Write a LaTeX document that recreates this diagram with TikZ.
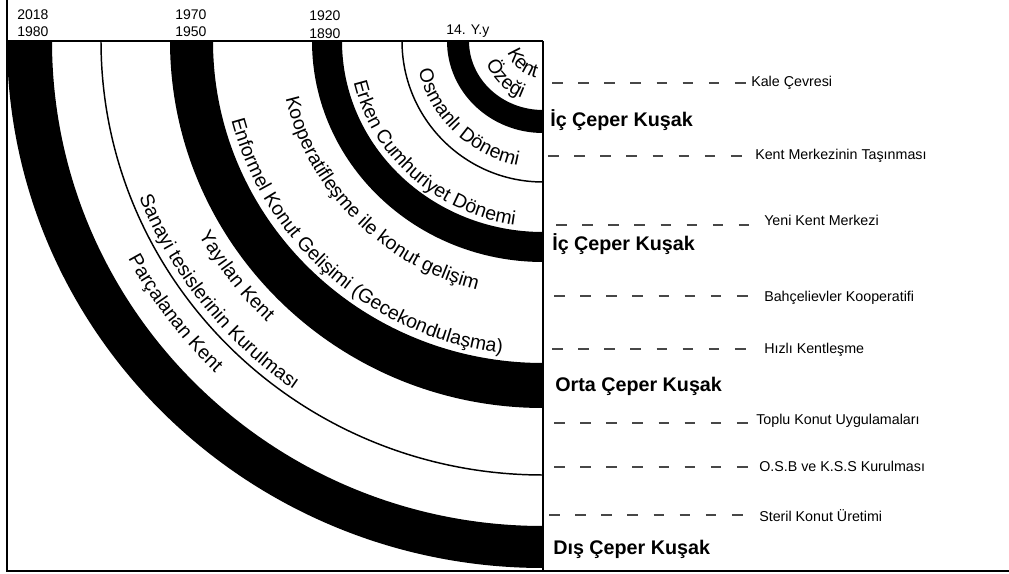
\documentclass[tikz,border=0pt]{standalone}
\usepackage{fontspec}
\setmainfont{Liberation Sans}
\usetikzlibrary{decorations.text}
\newcommand\arcfont{\fontsize{14.6}{16}\selectfont}
\tikzset{
  band/.style={fill=black, even odd rule},
  thinarc/.style={draw=black, line width=1.1pt},
  yearlbl/.style={font=\fontsize{10.5}{12}\selectfont, anchor=base west, inner sep=0pt},
  zonelbl/.style={font=\bfseries\fontsize{14.8}{17}\selectfont, anchor=base west, inner sep=0pt},
  eventlbl/.style={font=\fontsize{10.7}{12}\selectfont, anchor=base west, inner sep=0pt},
  dashline/.style={draw=black!72, line width=1.5pt, dash pattern=on 8pt off 11.6pt},
  frameline/.style={draw=black, line width=1pt},
  arctext/.style={decorate, decoration={text along path, text align=center, text color=black, text={|\arcfont|#1}}}
}
\begin{document}
\begin{tikzpicture}[x=0.75pt,y=0.75pt]
\useasboundingbox (0,0) rectangle (1009,574);
\fill[white] (0,0) rectangle (1009,574);
\coordinate (C) at (543,533);

% bands
\begin{scope}
  \clip (7,3) rectangle (543,533);
  \fill[band] (C) ellipse [x radius=536, y radius=527] (C) ellipse [x radius=491, y radius=485];
  \fill[band] (C) ellipse [x radius=373, y radius=367] (C) ellipse [x radius=330, y radius=322];
  \fill[band] (C) ellipse [x radius=231, y radius=221] (C) ellipse [x radius=201, y radius=191];
  \fill[band] (C) ellipse [x radius=96, y radius=92] (C) ellipse [x radius=74, y radius=69];
  \draw[thinarc] (C) ellipse [x radius=442, y radius=434];
  \draw[thinarc] (C) ellipse [x radius=141, y radius=141];
\end{scope}

% frame
\draw[frameline] (7,574) -- (7,3) -- (1009,3);
\draw[line width=1.6pt] (7,533) -- (543,533);
\draw[line width=1.3pt] (543,533) -- (543,3);

% arc texts
\path[arctext={Kent}] (C) ++(183:37 and 37) arc [start angle=183, end angle=273, x radius=37, y radius=37];
\path[arctext={Özeği}] (C) ++(180.5:61 and 61) arc [start angle=180.5, end angle=270.5, x radius=61, y radius=61];
\path[arctext={Osmanlı Dönemi}] (C) ++(181:128 and 127) arc [start angle=181, end angle=271, x radius=128, y radius=127];
\path[arctext={Erken Cumhuriyet Dönemi}] (C) ++(182:194 and 186) arc [start angle=182, end angle=272, x radius=194, y radius=186];
\path[arctext={Kooperatifleşme ile konut gelişim}] (C) ++(179:264 and 257) arc [start angle=179, end angle=269, x radius=264, y radius=257];
\path[arctext={Enformel Konut Gelişimi (Gecekondulaşma)}] (C) ++(183.5:322 and 315) arc [start angle=183.5, end angle=273.5, x radius=322, y radius=315];
\path[arctext={Yayılan Kent}] (C) ++(172.7:397 and 391) arc [start angle=172.7, end angle=262.7, x radius=397, y radius=391];
\path[arctext={Sanayi tesislerinin Kurulması}] (C) ++(173:434 and 426) arc [start angle=173, end angle=263, x radius=434, y radius=426];
\path[arctext={Parçalanan Kent}] (C) ++(171.7:470 and 463) arc [start angle=171.7, end angle=261.7, x radius=470, y radius=463];

% year labels
\node[yearlbl] (y1a) at (17,554.5) {2018};
\node[yearlbl] (y1b) at (17,537) {1980};
\node[yearlbl] (y2a) at (175,554.5) {1970};
\node[yearlbl] (y2b) at (175,537) {1950};
\node[yearlbl] (y3a) at (309,553) {1920};
\node[yearlbl] (y3b) at (309,535.5) {1890};
\node[yearlbl] (y4) at (446,539) {14. Y.y};

% zone labels
\node[zonelbl] (z1) at (550,447) {İç Çeper Kuşak};
\node[zonelbl] (z2) at (552,323) {İç Çeper Kuşak};
\node[zonelbl] (z3) at (555,182) {Orta Çeper Kuşak};
\node[zonelbl] (z4) at (553,19) {Dış Çeper Kuşak};

% event labels
\node[eventlbl] (e1) at (751,487) {Kale Çevresi};
\node[eventlbl] (e2) at (755,414) {Kent Merkezinin Taşınması};
\node[eventlbl] (e3) at (764,348) {Yeni Kent Merkezi};
\node[eventlbl] (e4) at (764,272) {Bahçelievler Kooperatifi};
\node[eventlbl] (e5) at (764,220) {Hızlı Kentleşme};
\node[eventlbl] (e6) at (756,149) {Toplu Konut Uygulamaları};
\node[eventlbl] (e7) at (759,102) {O.S.B ve K.S.S Kurulması};
\node[eventlbl] (e8) at (759,52) {Steril Konut Üretimi};

% dashed lines
\coordinate (d1a) at (552,491); \coordinate (d1b) at (747,491);
\coordinate (d2a) at (548,418); \coordinate (d2b) at (743,418);
\coordinate (d3a) at (556,349); \coordinate (d3b) at (749,349);
\coordinate (d4a) at (554,278); \coordinate (d4b) at (749,278);
\coordinate (d5a) at (552,225); \coordinate (d5b) at (747,225);
\coordinate (d6a) at (554,151); \coordinate (d6b) at (748,151);
\coordinate (d7a) at (554,107); \coordinate (d7b) at (748,107);
\coordinate (d8a) at (549,59); \coordinate (d8b) at (744,59);
\foreach \i in {1,...,8} {\draw[dashline] (d\i a) -- (d\i b);}
\end{tikzpicture}
\end{document}
